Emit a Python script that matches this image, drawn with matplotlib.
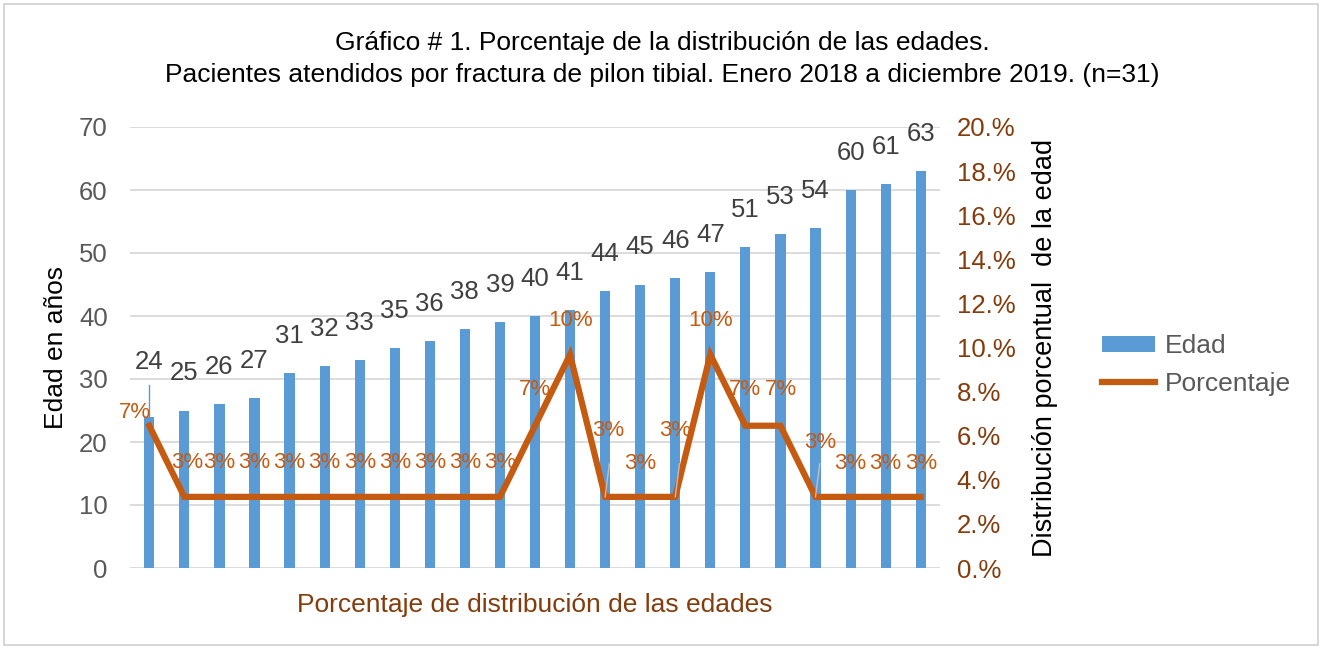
import matplotlib
matplotlib.use("Agg")
import matplotlib.pyplot as plt
from matplotlib.patches import Rectangle
from matplotlib.ticker import FuncFormatter

plt.rcParams['font.family'] = ['Liberation Sans', 'DejaVu Sans']

# datos
edades = [24, 25, 26, 27, 31, 32, 33, 35, 36, 38, 39, 40, 41, 44, 45, 46, 47,
          51, 53, 54, 60, 61, 63]
pacientes = [2, 1, 1, 1, 1, 1, 1, 1, 1, 1, 1, 2, 3, 1, 1, 1, 3, 2, 2, 1, 1, 1, 1]
total = 31
porcentaje = [p / total * 100 for p in pacientes]
# etiquetas tal como aparecen en el grafico
etiquetas_pct = ['7%', '3%', '3%', '3%', '3%', '3%', '3%', '3%', '3%', '3%', '3%',
                 '7%', '10%', '3%', '3%', '3%', '10%', '7%', '7%', '3%', '3%',
                 '3%', '3%']

# desplazamiento de las etiquetas de porcentaje (en pixeles)
desp_pct = [(-14, 13), (3, 34)] + [(0, 34)] * 9 + [(0, 36), (0, 34), (3, 66),
            (0, 33), (0, 66), (0, 34), (0, 36), (0, 36), (5, 54)] + [(0, 33)] * 3

azul = '#5B9BD5'
naranja = '#C55A11'
marron = '#843C0C'
gris = '#404040'

fig = plt.figure(figsize=(13.24, 6.48), dpi=100)
fig.patches.append(Rectangle((4 / 1324, 3 / 648), 1314 / 1324, 641 / 648,
                             transform=fig.transFigure, fill=False,
                             edgecolor='#D0D0D0', lw=1.2))

ax = fig.add_axes([130 / 1324, 1 - 568 / 648, 810 / 1324, 441 / 648])
x = list(range(len(edades)))
barras = ax.bar(x, edades, width=0.29, color=azul, label='Edad', zorder=2)
ax.set_ylim(0, 70)
ax.set_xlim(-0.55, len(edades) - 0.45)
ax.set_yticks(range(0, 71, 10))
ax.grid(axis='y', color='#D9D9D9', lw=1.3, zorder=0)
ax.set_xticks([])
for s in ax.spines.values():
    s.set_visible(False)
ax.tick_params(axis='y', length=0, labelsize=18.5, labelcolor='#595959', pad=16)
ax.set_ylabel('Edad en años', fontsize=19, color='black', labelpad=8)
ax.set_xlabel('Porcentaje de distribución de las edades', fontsize=19,
              color=marron, labelpad=18)

for i, v in enumerate(edades):
    dy = 43 if i == 0 else 25
    ax.annotate(str(v), (i, v), xytext=(0, dy * 0.72), textcoords='offset points',
                ha='center', va='bottom', fontsize=18.5, color=gris)
# linea guia de la primera etiqueta
ax.plot([0, 0], [edades[0], edades[0] + 5], color=azul, lw=1, zorder=2)

ax2 = ax.twinx()
linea, = ax2.plot(x, porcentaje, color=naranja, lw=4.5, label='Porcentaje',
                  solid_joinstyle='miter', zorder=3)
ax2.set_ylim(0, 20)
ax2.set_yticks(range(0, 21, 2))
ax2.yaxis.set_major_formatter(FuncFormatter(lambda v, p: f"{v:.0f}.%"))
for s in ax2.spines.values():
    s.set_visible(False)
ax2.tick_params(axis='y', length=0, labelsize=18.5, labelcolor=marron, pad=12)
ax2.set_ylabel('Distribución porcentual  de la edad', fontsize=19.5,
               color='black', labelpad=12)

for i, (v, t) in enumerate(zip(porcentaje, etiquetas_pct)):
    dx, dy = desp_pct[i]
    ax2.annotate(t, (i, v), xytext=(dx * 0.72, dy * 0.72),
                 textcoords='offset points', ha='center', va='center',
                 fontsize=16, color=naranja)
    if dy > 50:
        ax2.plot([i, i + 0.12], [v, v + 1.5], color='#BFBFBF', lw=1, zorder=4)

fig.legend([barras, linea], ['Edad', 'Porcentaje'], loc='center left',
           bbox_to_anchor=(1078 / 1324, 1 - 365 / 648), frameon=False,
           fontsize=19, labelcolor='#595959', handlelength=2.0,
           handleheight=0.6, labelspacing=0.5, handletextpad=0.4)

fig.text(0.5, 1 - 43 / 648, 'Gráfico # 1. Porcentaje de la distribución de las edades.',
         ha='center', va='center', fontsize=19, color='black')
fig.text(0.5, 1 - 75 / 648,
         'Pacientes atendidos por fractura de pilon tibial. Enero 2018 a diciembre 2019. (n=31)',
         ha='center', va='center', fontsize=19, color='black')

fig.savefig('out.png', dpi=100)
